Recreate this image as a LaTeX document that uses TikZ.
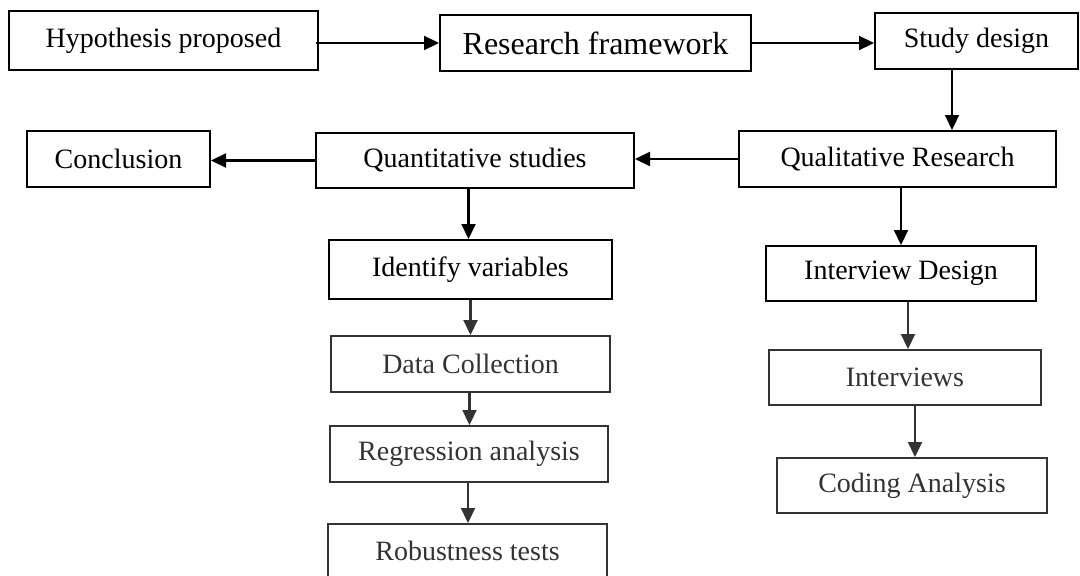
\documentclass[tikz,border=0pt]{standalone}
\usepackage{fontspec}
\setmainfont{Liberation Serif}
\usetikzlibrary{arrows.meta,calc}
\definecolor{dk}{HTML}{333333}
\tikzset{
  box/.style={draw, rectangle, line width=2pt, inner sep=0pt, font=\fontsize{28}{30}\selectfont},
  gbox/.style={box, draw=dk, text=dk},
  arr/.style={line width=2.2pt, -{Triangle[length=15pt,width=14pt]}},
  garr/.style={arr, draw=dk, fill=dk}
}
\begin{document}
\begin{tikzpicture}[x=1pt,y=-1pt]
\clip (0,0) rectangle (1080,576);
\fill[white] (0,0) rectangle (1080,576);
\node[box, minimum width=309pt, minimum height=59pt] (hyp) at (163.5,40.5) {Hypothesis proposed};
\node[box, minimum width=311pt, minimum height=56pt, font=\fontsize{32}{34}\selectfont] (rf) at (595.5,43) {Research framework};
\node[box, minimum width=203pt, minimum height=56pt] (sd) at (976.5,41) {Study design};
\node[box, minimum width=317pt, minimum height=56pt] (qual) at (897.5,159) {Qualitative Research};
\node[box, minimum width=318pt, minimum height=55pt] (quant) at (475,160.5) {Quantitative studies};
\node[box, minimum width=183pt, minimum height=56pt] (conc) at (118.5,159) {Conclusion};
\node[box, minimum width=283pt, minimum height=59pt] (idv) at (470.5,269.5) {Identify variables};
\node[gbox, minimum width=279pt, minimum height=56pt] (dc) at (470.5,364) {Data Collection};
\node[gbox, minimum width=278pt, minimum height=56pt] (reg) at (469,454) {Regression analysis};
\node[gbox, minimum width=279pt, minimum height=60pt, anchor=north] (rob) at (467.5,523) {\raisebox{6pt}{Robustness tests}};
\node[box, minimum width=270pt, minimum height=55pt] (intd) at (901,273.5) {Interview Design};
\node[gbox, minimum width=272pt, minimum height=55pt] (intv) at (905,377.5) {Interviews};
\node[gbox, minimum width=270pt, minimum height=55pt] (cod) at (912,485.5) {Coding Analysis};

\draw[arr] ([xshift=-3pt]hyp.east |- rf.west) -- (rf.west);
\draw[arr] (rf.east) -- (sd.west |- rf.east);
\draw[arr] ([xshift=-24.5pt]sd.south) -- ([xshift=-24.5pt]sd.south |- qual.north);
\draw[arr] (qual.west) -- (quant.east |- qual.west);
\draw[arr] (quant.west) -- (conc.east |- quant.west);
\draw[arr] ([xshift=-2pt]idv.north |- quant.south) -- ([xshift=-2pt]idv.north);
\draw[garr] (idv.south) -- (dc.north);
\draw[garr] ([xshift=-1pt]dc.south) -- ([xshift=-1pt]dc.south |- reg.north);
\draw[garr] ([xshift=-1pt]reg.south) -- ([xshift=-1pt]reg.south |- rob.north);
\draw[arr] (intd.north |- qual.south) -- (intd.north);
\draw[garr] ([xshift=7pt]intd.south) -- ([xshift=7pt]intd.south |- intv.north);
\draw[garr] ([xshift=10pt]intv.south) -- ([xshift=10pt]intv.south |- cod.north);
\end{tikzpicture}
\end{document}
